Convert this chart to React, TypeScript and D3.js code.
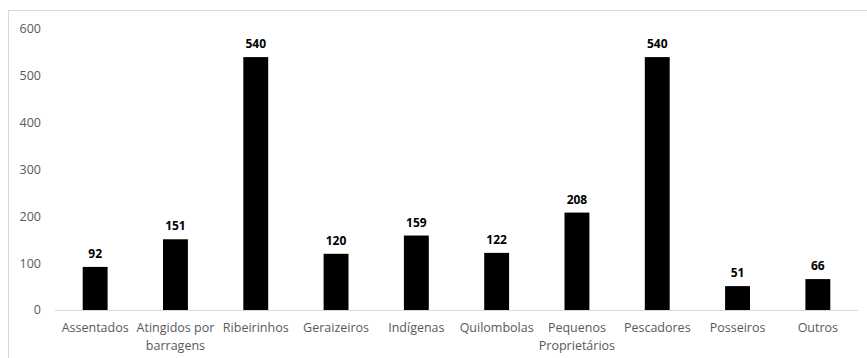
import React from "react";
import * as d3 from "d3";

const categories: string[][] = [
  ["Assentados"],
  ["Atingidos por", "barragens"],
  ["Ribeirinhos"],
  ["Geraizeiros"],
  ["Indígenas"],
  ["Quilombolas"],
  ["Pequenos", "Proprietários"],
  ["Pescadores"],
  ["Posseiros"],
  ["Outros"],
];
const values: number[] = [92, 151, 540, 120, 159, 122, 208, 540, 51, 66];
const yTicks: number[] = [0, 100, 200, 300, 400, 500, 600];

const W = 867;
const H = 358;
const FONT = "'Open Sans', 'Noto Sans', sans-serif";

export default function App() {
  const keys = categories.map((c) => c.join(" "));
  const x = d3.scaleBand<string>().domain(keys).range([55, 858]).paddingInner(0.69).paddingOuter(0.345);
  const y = d3.scaleLinear().domain([0, 600]).range([310, 29]);

  return (
    <svg
      width={W}
      height={H}
      style={{ position: "absolute", left: 0, top: 0, background: "#fff" }}
      fontFamily={FONT}
    >
      <rect x={8.5} y={10.5} width={W + 10} height={H + 10} fill="#fff" stroke="#d9d9d9" strokeWidth={1} />
      {yTicks.map((t) => (
        <text key={t} x={41} y={y(t)} dy="0.35em" textAnchor="end" fontSize={12.5} fill="#595959">
          {t}
        </text>
      ))}
      {values.map((v, i) => {
        const k = keys[i];
        const bx = x(k) as number;
        return (
          <g key={k}>
            <rect x={bx} y={y(v)} width={x.bandwidth()} height={y(0) - y(v)} fill="#000" />
            <text
              x={bx + x.bandwidth() / 2}
              y={y(v) - 9}
              textAnchor="middle"
              fontSize={12}
              fontWeight="bold"
              fill="#000"
            >
              {v}
            </text>
          </g>
        );
      })}
      <line x1={55} x2={858} y1={y(0) + 0.5} y2={y(0) + 0.5} stroke="#d9d9d9" strokeWidth={1} />
      {categories.map((lines, i) => {
        const k = keys[i];
        const cx = (x(k) as number) + x.bandwidth() / 2;
        return (
          <text key={k} x={cx} y={332} textAnchor="middle" fontSize={12.5} fill="#595959">
            {lines.map((l, j) => (
              <tspan key={j} x={cx} dy={j === 0 ? 0 : 18}>
                {l}
              </tspan>
            ))}
          </text>
        );
      })}
    </svg>
  );
}
